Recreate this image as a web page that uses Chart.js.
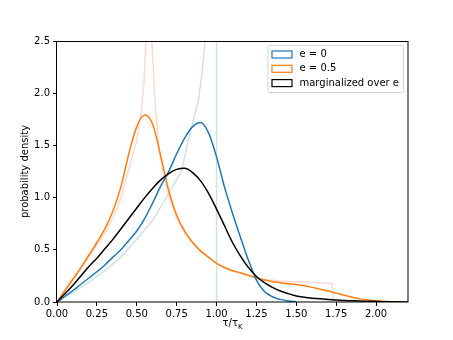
<!DOCTYPE html>
<html>
<head>
<meta charset="utf-8">
<script src="https://cdn.jsdelivr.net/npm/chart.js@4.4.1/dist/chart.umd.min.js"></script>
<style>
body { margin: 0; background: #fff; }
#wrap { width: 453px; height: 340px; }
</style>
</head>
<body>
<div id="wrap"><canvas id="chart" width="453" height="340"></canvas></div>
<script>
// tau / tau_K grid for the three histograms
var tauGrid = [0.00, 0.05, 0.10, 0.15, 0.20, 0.25, 0.30, 0.35, 0.40, 0.45,
               0.50, 0.55, 0.60, 0.65, 0.70, 0.75, 0.80, 0.85, 0.90, 0.95,
               1.00, 1.05, 1.10, 1.15, 1.20, 1.25, 1.30, 1.35, 1.40, 1.45,
               1.50, 1.55, 1.60, 1.65, 1.70, 1.75, 1.80, 1.85, 1.90, 1.95,
               2.00, 2.05, 2.10, 2.15, 2.20];

// e = 0 histogram
var densE0 = [0, 0.055, 0.11, 0.17, 0.23, 0.29, 0.355, 0.43, 0.50, 0.59,
              0.68, 0.80, 0.95, 1.11, 1.25, 1.42, 1.57, 1.68, 1.72, 1.62,
              1.39, 1.10, 0.85, 0.62, 0.40, 0.21, 0.10, 0.05, 0.025, 0.01,
              0.003, null, null, null, null, null, null, null, null, null,
              null, null, null, null, null];

// e = 0.5 histogram
var densE05 = [0, 0.11, 0.22, 0.33, 0.45, 0.57, 0.70, 0.87, 1.10, 1.42,
               1.68, 1.79, 1.70, 1.40, 1.07, 0.83, 0.68, 0.57, 0.49, 0.43,
               0.37, 0.33, 0.30, 0.28, 0.255, 0.23, 0.21, 0.195, 0.185, 0.175,
               0.168, 0.155, 0.14, 0.123, 0.105, 0.085, 0.065, 0.046, 0.03, 0.02,
               0.012, 0.006, 0.003, 0.001, 0];

// marginalized over e
var densMarg = [0, 0.08, 0.16, 0.25, 0.34, 0.42, 0.51, 0.60, 0.70, 0.80,
                0.90, 1.00, 1.09, 1.17, 1.23, 1.27, 1.28, 1.24, 1.16, 1.04,
                0.89, 0.73, 0.57, 0.44, 0.33, 0.245, 0.185, 0.14, 0.105, 0.08,
                0.058, 0.046, 0.037, 0.03, 0.024, 0.019, 0.015, 0.012, 0.009, 0.007,
                0.005, 0.003, 0.002, 0.001, 0.001];

// faint analytic curves
var tauPaleE0 = [0, 0.1, 0.2, 0.3, 0.4, 0.5, 0.6, 0.7, 0.78, 0.834, 0.886, 0.91, 0.928, 0.96, 0.9999, 1.0];
var paleE0    = [0, 0.09, 0.19, 0.30, 0.43, 0.60, 0.78, 1.04, 1.25, 1.62, 1.93, 2.20, 2.50, 3.40, 9.0, 0];

var tauPaleE05 = [0, 0.1, 0.2, 0.3, 0.35, 0.4, 0.45, 0.5, 0.53, 0.545, 0.558, 0.577, 0.594, 0.614, 0.641, 0.667,
                  0.70, 0.75, 0.80, 0.90, 1.0, 1.1, 1.2, 1.3, 1.4, 1.5, 1.6, 1.7, 1.725, 1.73];
var paleE05    = [0, 0.21, 0.43, 0.66, 0.80, 0.99, 1.27, 1.55, 1.85, 2.10, 2.50, 9.0, 2.50, 1.92, 1.44, 1.22,
                  1.02, 0.80, 0.66, 0.48, 0.37, 0.30, 0.25, 0.215, 0.20, 0.195, 0.19, 0.18, 0.175, 0];

var xTicks = [0, 0.25, 0.5, 0.75, 1.0, 1.25, 1.5, 1.75, 2.0];
var yTicks = [0, 0.5, 1.0, 1.5, 2.0, 2.5];

function pts(xs, ys) {
    var out = [];
    for (var i = 0; i < xs.length; i++) {
        out.push({x: xs[i], y: ys[i]});
    }
    return out;
}

var FONT = '"DejaVu Sans", sans-serif';

var framePlugin = {
    id: 'frame',
    afterDraw: function (chart) {
        var ctx = chart.ctx;
        var a = chart.chartArea;
        ctx.save();
        ctx.strokeStyle = '#000';
        ctx.lineWidth = 1;
        ctx.strokeRect(Math.round(a.left) - 0.5, Math.round(a.top) + 0.5,
                       Math.round(a.right - a.left) + 0.5, Math.round(a.bottom - a.top) - 0.5);

        // axis titles
        ctx.fillStyle = '#000';
        ctx.font = '10px ' + FONT;
        ctx.textBaseline = 'middle';
        var cx = (a.left + a.right) / 2;
        var main = '\u03c4/\u03c4';
        var w1 = ctx.measureText(main).width;
        ctx.font = '7px ' + FONT;
        var w2 = ctx.measureText('K').width;
        var x0 = cx - (w1 + w2) / 2;
        ctx.font = '10px ' + FONT;
        ctx.textAlign = 'left';
        ctx.fillText(main, x0, 323);
        ctx.font = '7px ' + FONT;
        ctx.fillText('K', x0 + w1, 327);

        ctx.font = '10px ' + FONT;
        ctx.textAlign = 'center';
        ctx.translate(25, (a.top + a.bottom) / 2);
        ctx.rotate(-Math.PI / 2);
        ctx.fillText('probability density', 0, 0);
        ctx.restore();

        // legend
        var items = chart.data.datasets.filter(function (d) { return d.inLegend; });
        ctx.save();
        ctx.font = '10px ' + FONT;
        var tw = 0;
        items.forEach(function (d) { tw = Math.max(tw, ctx.measureText(d.label).width); });
        var bw = 4 + 20 + 8 + tw + 4;
        var bh = 47;
        var bx = a.right - 5 - bw;
        var by = a.top + 4;
        ctx.fillStyle = 'rgba(255,255,255,0.8)';
        ctx.strokeStyle = '#d5d5d5';
        ctx.lineWidth = 1;
        ctx.beginPath();
        ctx.roundRect(bx + 0.5, by + 0.5, bw, bh, 2);
        ctx.fill();
        ctx.stroke();
        items.forEach(function (d, i) {
            var ry = by + 9 + i * 14.3;
            ctx.strokeStyle = d.borderColor;
            ctx.lineWidth = 1.2;
            ctx.strokeRect(bx + 4.5, ry - 3, 20, 7);
            ctx.fillStyle = '#000';
            ctx.textAlign = 'left';
            ctx.textBaseline = 'middle';
            ctx.fillText(d.label, bx + 32, ry + 0.5);
        });
        ctx.restore();
    }
};

var ctx = document.getElementById('chart').getContext('2d');
var myChart = new Chart(ctx, {
    type: 'line',
    data: {
        datasets: [
            {
                label: 'e = 0',
                inLegend: true,
                data: pts(tauGrid, densE0),
                borderColor: '#1f77b4',
                borderWidth: 1.5,
                cubicInterpolationMode: 'monotone',
                order: 2
            },
            {
                label: 'e = 0.5',
                inLegend: true,
                data: pts(tauGrid, densE05),
                borderColor: '#ff7f0e',
                borderWidth: 1.5,
                cubicInterpolationMode: 'monotone',
                order: 2
            },
            {
                label: 'marginalized over e',
                inLegend: true,
                data: pts(tauGrid, densMarg),
                borderColor: '#000000',
                borderWidth: 1.5,
                cubicInterpolationMode: 'monotone',
                order: 1
            },
            {
                label: 'e = 0 (analytic)',
                data: pts(tauPaleE0, paleE0),
                borderColor: 'rgba(95,158,160,0.3)',
                borderWidth: 1.5,
                order: 3
            },
            {
                label: 'e = 0.5 (analytic)',
                data: pts(tauPaleE05, paleE05),
                borderColor: 'rgba(250,128,114,0.3)',
                borderWidth: 1.5,
                order: 3
            }
        ]
    },
    options: {
        responsive: false,
        animation: false,
        devicePixelRatio: 1,
        layout: { padding: { top: 41, right: 45, left: 0, bottom: 0 } },
        elements: { point: { radius: 0 }, line: { fill: false } },
        datasets: { line: { clip: 0, spanGaps: false } },
        plugins: {
            legend: { display: false },
            tooltip: { enabled: false }
        },
        scales: {
            x: {
                type: 'linear',
                min: 0,
                max: 2.2,
                afterFit: function (scale) { scale.height = 38; },
                afterBuildTicks: function (scale) {
                    scale.ticks = xTicks.map(function (v) { return {value: v}; });
                },
                border: { display: false },
                grid: { drawOnChartArea: false, drawTicks: true, tickLength: 4, color: '#000', tickWidth: 1 },
                ticks: {
                    color: '#000',
                    padding: 2,
                    maxRotation: 0,
                    font: { family: FONT, size: 10 },
                    callback: function (v) { return v.toFixed(2); }
                }
            },
            y: {
                type: 'linear',
                min: 0,
                max: 2.5,
                afterFit: function (scale) { scale.width = 57; },
                afterBuildTicks: function (scale) {
                    scale.ticks = yTicks.map(function (v) { return {value: v}; });
                },
                border: { display: false },
                grid: { drawOnChartArea: false, drawTicks: true, tickLength: 4, color: '#000', tickWidth: 1 },
                ticks: {
                    color: '#000',
                    padding: 3,
                    font: { family: FONT, size: 10 },
                    callback: function (v) { return v.toFixed(1); }
                }
            }
        }
    },
    plugins: [framePlugin]
});
</script>
</body>
</html>
